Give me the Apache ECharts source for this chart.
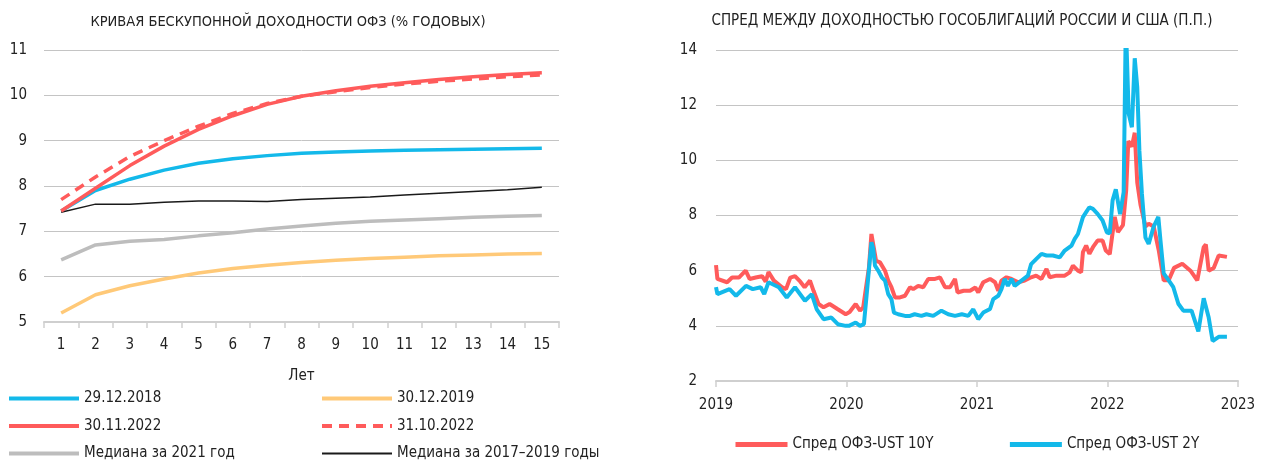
<!DOCTYPE html>
<html>
<head>
<meta charset="utf-8">
<script src="https://cdn.jsdelivr.net/npm/echarts@6/dist/echarts.min.js"></script>
<style>
html,body{margin:0;padding:0;background:#fff;}
#c{width:1264px;height:461px;}
</style>
</head>
<body>
<div id="c"></div>
<script>
// ---------- Left chart: zero-coupon OFZ yield curve ----------
const maturities = ['1','2','3','4','5','6','7','8','9','10','11','12','13','14','15'];
const curve20181229 = [7.45,7.9,8.15,8.35,8.5,8.6,8.67,8.72,8.75,8.77,8.79,8.8,8.81,8.82,8.83];
const curve20191230 = [5.2,5.6,5.8,5.95,6.08,6.18,6.25,6.31,6.36,6.4,6.43,6.46,6.48,6.5,6.51];
const curve20221130 = [7.45,7.95,8.45,8.88,9.25,9.55,9.8,9.98,10.1,10.2,10.28,10.35,10.41,10.46,10.5];
const curve20221031 = [7.7,8.2,8.65,9.0,9.32,9.6,9.82,9.98,10.08,10.17,10.25,10.31,10.36,10.41,10.45];
const median2021 = [6.37,6.7,6.78,6.82,6.9,6.97,7.05,7.12,7.18,7.22,7.25,7.28,7.31,7.33,7.35];
const median2017_2019 = [7.42,7.6,7.6,7.64,7.67,7.67,7.66,7.7,7.73,7.76,7.8,7.84,7.88,7.92,7.97];
const leftYTicks = [5,6,7,8,9,10,11];

// ---------- Right chart: spread OFZ - UST ----------
const yearLabels = ['2019','2020','2021','2022','2023'];
const spread10Dates = [
 '2019-01-01','2019-01-05','2019-02-01','2019-02-15','2019-03-06','2019-03-25','2019-04-05','2019-04-22','2019-05-10','2019-05-20','2019-05-28','2019-06-12','2019-07-05','2019-07-16','2019-07-28','2019-08-10','2019-08-25','2019-09-06','2019-09-21','2019-10-01','2019-10-15','2019-10-29','2019-11-15','2019-12-08','2019-12-30',
 '2020-01-10','2020-01-27','2020-02-08','2020-02-17','2020-02-25','2020-03-04','2020-03-11','2020-03-16','2020-03-24','2020-04-04','2020-04-18','2020-04-27','2020-05-06','2020-05-16','2020-05-30','2020-06-13','2020-06-27','2020-07-06','2020-07-20','2020-08-03','2020-08-17','2020-09-05','2020-09-19','2020-10-03','2020-10-17','2020-10-31','2020-11-07','2020-11-24','2020-12-12','2020-12-27',
 '2021-01-04','2021-01-18','2021-02-06','2021-02-20','2021-03-01','2021-03-10','2021-03-24','2021-04-07','2021-04-26','2021-05-14','2021-06-01','2021-06-15','2021-06-30','2021-07-14','2021-07-23','2021-08-11','2021-09-03','2021-09-17','2021-09-26','2021-10-10','2021-10-19','2021-10-24','2021-11-02','2021-11-11','2021-11-21','2021-12-04','2021-12-18','2021-12-27',
 '2022-01-07','2022-01-21','2022-01-30','2022-02-13','2022-02-22','2022-02-28','2022-03-10','2022-03-18','2022-03-25','2022-04-03','2022-04-17','2022-04-26','2022-05-10','2022-05-24','2022-06-07','2022-06-21','2022-07-06','2022-07-29','2022-08-21','2022-09-09','2022-09-27','2022-10-03','2022-10-11','2022-10-25','2022-11-08','2022-12-01'];
const spread10 = [
 6.2,5.7,5.58,5.75,5.75,6.0,5.7,5.75,5.8,5.6,5.95,5.64,5.4,5.33,5.75,5.8,5.6,5.4,5.64,5.27,4.79,4.67,4.79,4.6,4.42,
 4.5,4.79,4.55,4.67,5.4,6.1,7.33,7.27,6.36,6.3,6.0,5.64,5.4,5.03,5.03,5.09,5.4,5.33,5.45,5.4,5.7,5.7,5.76,5.4,5.4,5.7,5.21,5.27,5.27,5.39,
 5.21,5.58,5.7,5.58,5.27,5.64,5.76,5.7,5.58,5.64,5.76,5.82,5.7,6.06,5.76,5.82,5.82,5.94,6.18,6.0,5.94,6.67,6.91,6.61,6.85,7.09,7.09,6.73,
 6.6,7.95,7.4,7.65,8.9,10.7,10.5,11.0,9.2,8.4,7.6,7.7,7.6,6.75,5.65,5.65,6.1,6.25,6.0,5.65,6.85,6.95,6.0,6.1,6.55,6.5];
const spread2Dates = [
 '2019-01-01','2019-01-05','2019-02-08','2019-02-26','2019-03-26','2019-04-14','2019-05-06','2019-05-16','2019-05-28','2019-06-26','2019-07-18','2019-08-10','2019-09-07','2019-09-26','2019-10-10','2019-10-29','2019-11-20','2019-12-08','2019-12-30',
 '2020-01-08','2020-01-27','2020-02-08','2020-02-19','2020-02-26','2020-03-11','2020-03-16','2020-03-21','2020-03-30','2020-04-09','2020-04-18','2020-04-27','2020-05-06','2020-05-13','2020-05-25','2020-06-13','2020-06-27','2020-07-10','2020-07-29','2020-08-12','2020-08-31','2020-09-23','2020-10-12','2020-10-31','2020-11-19','2020-12-07','2020-12-21',
 '2021-01-04','2021-01-18','2021-02-06','2021-02-15','2021-03-01','2021-03-10','2021-03-19','2021-03-28','2021-04-07','2021-04-16','2021-05-05','2021-05-23','2021-06-01','2021-06-15','2021-06-30','2021-07-14','2021-08-01','2021-08-20','2021-09-03','2021-09-22','2021-10-01','2021-10-10','2021-10-24','2021-11-02','2021-11-11','2021-11-21','2021-12-04','2021-12-18','2021-12-30',
 '2022-01-07','2022-01-15','2022-01-24','2022-02-05','2022-02-15','2022-02-21','2022-03-01','2022-03-10','2022-03-18','2022-03-25','2022-03-31','2022-04-07','2022-04-17','2022-04-26','2022-05-10','2022-05-23','2022-05-29','2022-06-07','2022-06-21','2022-07-04','2022-07-18','2022-08-01','2022-08-24','2022-09-12','2022-09-27','2022-10-11','2022-10-22','2022-11-08','2022-12-01'];
const spread2 = [
 5.4,5.15,5.33,5.09,5.45,5.33,5.4,5.15,5.58,5.4,5.03,5.4,4.91,5.15,4.6,4.24,4.3,4.06,4.0,
 4.0,4.12,4.0,4.06,5.03,7.03,6.79,6.18,6.0,5.76,5.64,5.15,4.97,4.48,4.42,4.36,4.36,4.42,4.36,4.42,4.36,4.55,4.42,4.36,4.42,4.36,4.6,
 4.24,4.48,4.61,4.97,5.09,5.33,5.7,5.45,5.7,5.45,5.64,5.82,6.24,6.42,6.61,6.55,6.55,6.48,6.73,6.91,7.15,7.33,7.94,8.12,8.3,8.24,8.06,7.82,7.39,
 7.35,8.55,8.95,8.05,8.85,15.0,11.7,11.2,13.7,12.65,10.35,8.8,7.2,6.97,7.6,7.95,7.1,5.9,5.65,5.4,4.8,4.55,4.55,3.8,5.0,4.3,3.45,3.6,3.6];

const FONT = "'Liberation Sans Narrow', 'DejaVu Sans Condensed', Roboto, sans-serif";
const BASE = Date.UTC(2019,0,1);
const DAY = 86400000;
function toDays(d){ return (Date.parse(d + 'T00:00:00Z') - BASE) / DAY; }
function pairs(dates, vals){ return dates.map((d,i)=>[toDays(d), vals[i]]); }

const C_BLUE = '#13B9EA', C_RED = '#FF5B5B', C_ORANGE = '#FFC978', C_GRAY = '#BDBDBD', C_BLACK = '#1a1a1a';

const chart = echarts.init(document.getElementById('c'), null, {renderer:'canvas'});
const leftLine = (name, data, color, width, dashed, z) => ({
  name, type:'line', xAxisIndex:0, yAxisIndex:0, data, symbol:'none', smooth:false, z: z||2,
  lineStyle:{color, width, type: dashed ? [10,7] : 'solid'}, itemStyle:{color}
});
const legText = {fontFamily:FONT, fontSize:15, color:'#222'};
const legItem = (name, w) => ({name, lineStyle:{width:w}});
chart.setOption({
  animation:false,
  textStyle:{fontFamily:FONT},
  title:[
    {text:'КРИВАЯ БЕСКУПОННОЙ ДОХОДНОСТИ ОФЗ (% ГОДОВЫХ)', left:283, top:10, textAlign:'center',
     textStyle:{fontFamily:FONT, fontSize:14.5, fontWeight:'normal', color:'#222'}},
    {text:'СПРЕД МЕЖДУ ДОХОДНОСТЬЮ ГОСОБЛИГАЦИЙ РОССИИ И США (П.П.)', left:957, top:9, textAlign:'center',
     textStyle:{fontFamily:FONT, fontSize:15, fontWeight:'normal', color:'#222'}}
  ],
  legend:[
    {orient:'vertical', left:7, top:391, height:90, padding:0, itemWidth:70, itemHeight:14, itemGap:12.5,
     itemStyle:{opacity:0},
     data:[legItem('29.12.2018',4), legItem('30.11.2022',4), legItem('Медиана за 2021 год',4)],
     textStyle:legText},
    {orient:'vertical', left:320, top:391, height:90, padding:0, itemWidth:70, itemHeight:14, itemGap:12.5,
     itemStyle:{opacity:0},
     data:[legItem('30.12.2019',4), legItem('31.10.2022',4), legItem('Медиана за 2017–2019 годы',2)],
     textStyle:legText},
    {orient:'horizontal', left:733, top:437, padding:0, itemWidth:52, itemHeight:14, itemGap:74,
     itemStyle:{opacity:0},
     data:[legItem('Спред ОФЗ-UST 10Y',5), legItem('Спред ОФЗ-UST 2Y',5)],
     textStyle:legText}
  ],
  grid:[
    {left:44, top:50, width:515, height:272, containLabel:false},
    {left:716, top:50, width:522, height:331, containLabel:false}
  ],
  xAxis:[
    {type:'category', gridIndex:0, data:maturities, boundaryGap:true,
     name:'Лет', nameLocation:'middle', nameGap:47,
     nameTextStyle:{fontFamily:FONT, fontSize:15, color:'#222'},
     axisLine:{lineStyle:{color:'#cfcfcf', width:2}},
     axisTick:{show:true, length:6, lineStyle:{color:'#cfcfcf', width:1.5}},
     axisLabel:{fontFamily:FONT, fontSize:15, color:'#222', margin:16}},
    {type:'value', gridIndex:1, min:0, max:1461, interval:365.25,
     axisLine:{lineStyle:{color:'#cfcfcf', width:2}},
     axisTick:{show:true, length:6, lineStyle:{color:'#cfcfcf', width:1.5}},
     splitLine:{show:false},
     axisLabel:{fontFamily:FONT, fontSize:15, color:'#222', margin:17,
       formatter:(v)=>yearLabels[Math.round(v/365.25)]}}
  ],
  yAxis:[
    {type:'value', gridIndex:0, min:leftYTicks[0], max:leftYTicks[leftYTicks.length-1], interval:1,
     axisLine:{show:false}, axisTick:{show:false},
     splitLine:{lineStyle:{color:'#c4c4c4', width:1}},
     axisLabel:{fontFamily:FONT, fontSize:15, color:'#222', margin:17}},
    {type:'value', gridIndex:1, min:2, max:14, interval:2,
     axisLine:{show:false}, axisTick:{show:false},
     splitLine:{lineStyle:{color:'#c4c4c4', width:1}},
     axisLabel:{fontFamily:FONT, fontSize:15, color:'#222', margin:19}}
  ],
  series:[
    leftLine('29.12.2018', curve20181229, C_BLUE, 3.5, false, 3),
    leftLine('30.12.2019', curve20191230, C_ORANGE, 3.5, false, 2),
    leftLine('30.11.2022', curve20221130, C_RED, 3.5, false, 4),
    leftLine('31.10.2022', curve20221031, C_RED, 3.5, true, 4),
    leftLine('Медиана за 2021 год', median2021, C_GRAY, 3.5, false, 2),
    leftLine('Медиана за 2017–2019 годы', median2017_2019, C_BLACK, 1.5, false, 3),
    {name:'Спред ОФЗ-UST 10Y', type:'line', xAxisIndex:1, yAxisIndex:1, data:pairs(spread10Dates, spread10),
     symbol:'none', clip:true, lineStyle:{color:C_RED, width:4}, itemStyle:{color:C_RED}, z:2},
    {name:'Спред ОФЗ-UST 2Y', type:'line', xAxisIndex:1, yAxisIndex:1, data:pairs(spread2Dates, spread2),
     symbol:'none', clip:true, lineStyle:{color:C_BLUE, width:4}, itemStyle:{color:C_BLUE}, z:3}
  ]
});
</script>
</body>
</html>
